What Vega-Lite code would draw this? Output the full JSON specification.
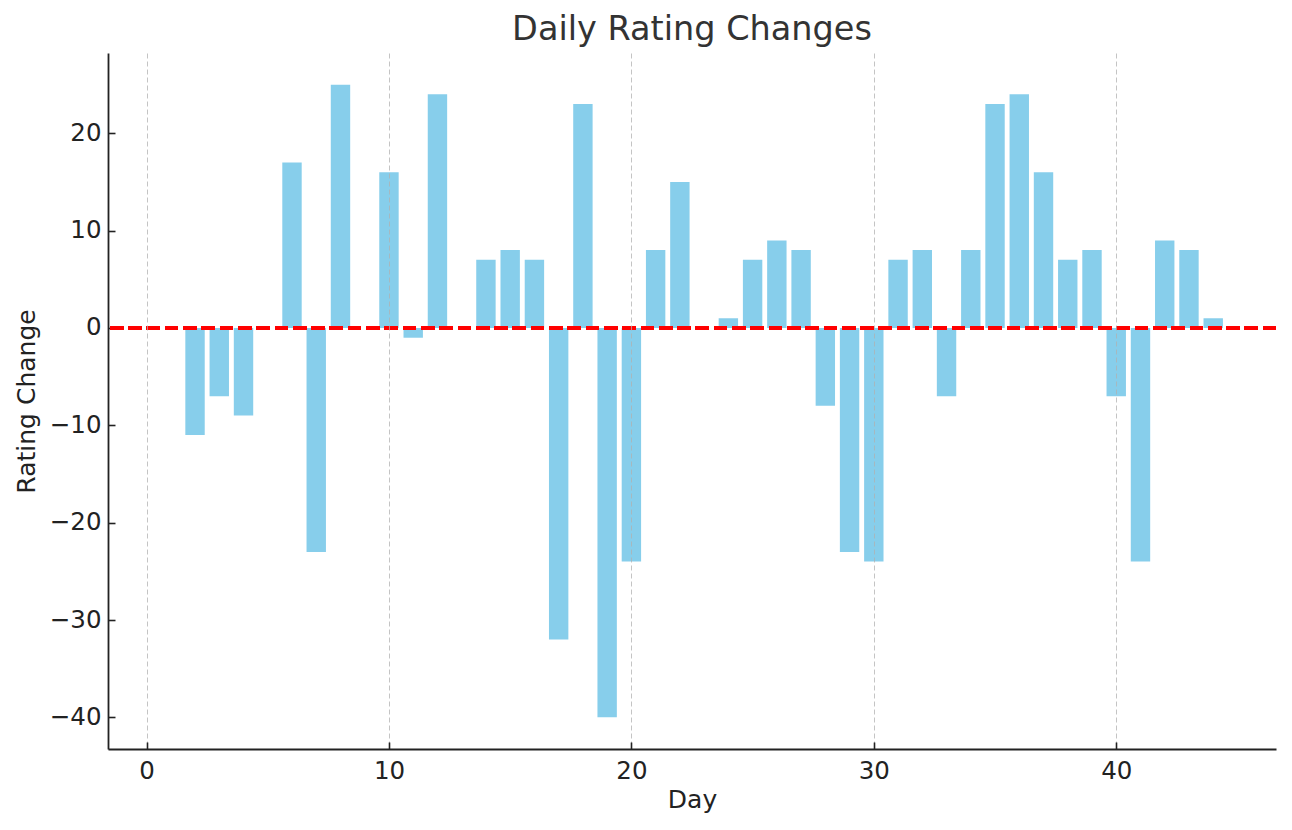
{
  "$schema": "https://vega.github.io/schema/vega-lite/v6.json",
  "width": 1168,
  "height": 696,
  "autosize": {"type": "none"},
  "padding": {"left": 108, "top": 53, "right": 16, "bottom": 81},
  "background": "white",
  "config": {
    "view": {"stroke": null},
    "font": "DejaVu Sans"
  },
  "title": {
    "text": "Daily Rating Changes",
    "fontSize": 33.5,
    "fontWeight": "normal",
    "color": "#333333",
    "font": "DejaVu Sans",
    "anchor": "middle",
    "offset": 6
  },
  "data": {
    "values": [
      {"day": 1, "change": 0},
      {"day": 2, "change": -11},
      {"day": 3, "change": -7},
      {"day": 4, "change": -9},
      {"day": 5, "change": 0},
      {"day": 6, "change": 17},
      {"day": 7, "change": -23},
      {"day": 8, "change": 25},
      {"day": 9, "change": 0},
      {"day": 10, "change": 16},
      {"day": 11, "change": -1},
      {"day": 12, "change": 24},
      {"day": 13, "change": 0},
      {"day": 14, "change": 7},
      {"day": 15, "change": 8},
      {"day": 16, "change": 7},
      {"day": 17, "change": -32},
      {"day": 18, "change": 23},
      {"day": 19, "change": -40},
      {"day": 20, "change": -24},
      {"day": 21, "change": 8},
      {"day": 22, "change": 15},
      {"day": 23, "change": 0},
      {"day": 24, "change": 1},
      {"day": 25, "change": 7},
      {"day": 26, "change": 9},
      {"day": 27, "change": 8},
      {"day": 28, "change": -8},
      {"day": 29, "change": -23},
      {"day": 30, "change": -24},
      {"day": 31, "change": 7},
      {"day": 32, "change": 8},
      {"day": 33, "change": -7},
      {"day": 34, "change": 8},
      {"day": 35, "change": 23},
      {"day": 36, "change": 24},
      {"day": 37, "change": 16},
      {"day": 38, "change": 7},
      {"day": 39, "change": 8},
      {"day": 40, "change": -7},
      {"day": 41, "change": -24},
      {"day": 42, "change": 9},
      {"day": 43, "change": 8},
      {"day": 44, "change": 1}
    ]
  },
  "layer": [
    {
      "mark": {"type": "bar", "color": "#87CEEB", "size": 19.4},
      "encoding": {
        "x": {
          "field": "day",
          "type": "quantitative",
          "scale": {"domain": [-1.59, 46.59], "nice": false, "zero": false, "padding": 0},
          "axis": {
            "title": "Day",
            "values": [0, 10, 20, 30, 40],
            "format": "d",
            "grid": true,
            "gridColor": "#b0b0b0",
            "gridOpacity": 0.75,
            "gridWidth": 1,
            "gridDash": [5, 3],
            "zindex": 1,
            "domainColor": "#222222",
            "domainWidth": 1.8,
            "tickColor": "#222222",
            "tickWidth": 1.6,
            "tickSize": -7,
            "labelPadding": 17,
            "labelFontSize": 24.5,
            "labelColor": "#222222",
            "labelFont": "DejaVu Sans",
            "titleFontSize": 25,
            "titleFontWeight": "normal",
            "titleColor": "#222222",
            "titleFont": "DejaVu Sans",
            "titlePadding": 5
          }
        },
        "y": {
          "field": "change",
          "type": "quantitative",
          "scale": {"domain": [-43.25, 28.25], "nice": false, "zero": false},
          "axis": {
            "title": "Rating Change",
            "values": [-40, -30, -20, -10, 0, 10, 20],
            "grid": false,
            "domainColor": "#222222",
            "domainWidth": 1.8,
            "tickColor": "#222222",
            "tickWidth": 1.6,
            "tickSize": -7,
            "labelPadding": 14,
            "labelFontSize": 24.5,
            "labelColor": "#222222",
            "labelFont": "DejaVu Sans",
            "titleFontSize": 25,
            "titleFontWeight": "normal",
            "titleColor": "#222222",
            "titleFont": "DejaVu Sans",
            "titlePadding": 10
          }
        }
      }
    },
    {
      "mark": {"type": "rule", "color": "#ff0000", "strokeWidth": 3.4, "strokeDash": [12.8, 5.5]},
      "encoding": {
        "y": {"datum": 0, "type": "quantitative"}
      }
    }
  ]
}
